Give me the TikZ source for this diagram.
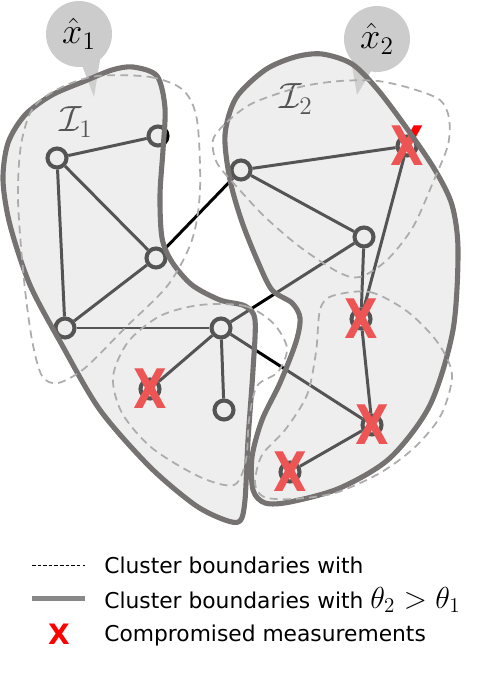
\documentclass[tikz,border=0pt]{standalone}
\usepackage{fontspec}
\setmainfont{DejaVu Sans}
\usetikzlibrary{positioning}

\definecolor{rimgray}{RGB}{118,114,113}
\definecolor{veil}{gray}{0.833}
\definecolor{dashgray}{RGB}{172,172,172}
\definecolor{bubgray}{RGB}{204,204,204}
\definecolor{keygray}{RGB}{136,136,136}

\begin{document}
\begin{tikzpicture}[x=0.02cm, y=-0.02cm,
  vtx/.style={circle, draw=black, fill=white, line width=2.3pt, minimum size=0.38cm, inner sep=0pt},
  link/.style={draw=black, line width=1.7pt},
  xmark/.style={text=red, font=\fontsize{31}{31}\selectfont\bfseries, inner sep=0pt},
  bubble/.style={circle, fill=bubgray, minimum size=1.32cm, inner sep=0pt, font=\fontsize{20}{20}\selectfont},
  tag/.style={font=\fontsize{21}{21}\selectfont, inner sep=0pt},
  blob/.style={draw=rimgray, line width=2.9pt, fill=veil, fill opacity=0.4, line join=round},
  ghost/.style={draw=dashgray, line width=1pt, dash pattern=on 4.5pt off 3pt},
  keytxt/.style={anchor=west, font=\fontsize{12.4}{15}\selectfont, inner sep=0pt}
]
\useasboundingbox (0,0) rectangle (478,688);

% speech bubbles
\node[bubble] (bub1) at (79,34) {$\hat{x}_1$};
\fill[bubgray] (80,60) -- (100,60) -- (94,97) -- cycle;
\node[bubble] (bub2) at (377,39) {$\hat{x}_2$};
\fill[bubgray] (352,66) -- (374,66) -- (357,95) -- cycle;

% measurement nodes
\node[vtx] (a) at (57,158) {};
\node[vtx] (b) at (158,136) {};
\node[vtx] (c) at (156,258) {};
\node[vtx] (d) at (65,328) {};
\node[vtx] (e) at (221,328) {};
\node[vtx] (f) at (150,389) {};
\node[vtx] (g) at (224,410) {};
\node[vtx] (h) at (241,170) {};
\node[vtx] (j) at (407,146) {};
\node[vtx] (k) at (364,237) {};
\node[vtx] (l) at (361,319) {};
\node[vtx] (m) at (372,425) {};
\node[vtx] (n) at (290,472) {};

\draw[link] (a) -- (b);
\draw[link] (a) -- (c);
\draw[link] (a) -- (d);
\draw[link] (c) -- (d);
\draw[link] (d) -- (e);
\draw[link] (e) -- (f);
\draw[link] (e) -- (g);
\draw[link] (c) -- (h);
\draw[link] (e) -- (k);
\draw[link] (e) -- (m);
\draw[link] (h) -- (j);
\draw[link] (h) -- (k);
\draw[link] (j) -- (l);
\draw[link] (k) -- (l);
\draw[link] (l) -- (m);
\draw[link] (m) -- (n);

% compromised ones
\node[xmark] (xf) at (f) {\scalebox{0.8}[1]{X}};
\node[xmark] (xj) at (j) {\scalebox{0.8}[1]{X}};
\node[xmark] (xl) at (l) {\scalebox{0.8}[1]{X}};
\node[xmark] (xm) at (m) {\scalebox{0.8}[1]{X}};
\node[xmark] (xn) at (n) {\scalebox{0.8}[1]{X}};

\node[tag] (i1) at (76,122) {$\mathcal{I}_1$};
\node[tag] (i2) at (296,99) {$\mathcal{I}_2$};

% clusters
\filldraw[blob] plot[smooth cycle] coordinates {(133,67) (157,76) (165,108) (163,150) (160,195) (162,238) (172,262) (192,285) (220,300) (245,306) (255,320) (253,370) (248,440) (245,500) (240,521) (225,520) (195,505) (150,467) (100,410) (62,345) (30,285) (10,225) (3,180) (8,143) (25,115) (52,95) (85,81) (112,70)};
\filldraw[blob] plot[smooth cycle] coordinates {(322,54) (352,64) (378,90) (408,130) (435,170) (452,205) (458,250) (453,330) (430,405) (390,458) (340,488) (290,502) (265,503) (253,490) (252,457) (262,420) (280,383) (296,342) (300,318) (292,303) (272,290) (258,262) (242,222) (230,180) (225,135) (236,98) (265,70) (295,57)};

\draw[ghost] plot[smooth cycle] coordinates {(97,76) (150,77) (183,90) (197,120) (200,190) (192,240) (168,285) (125,328) (85,368) (58,383) (42,376) (32,340) (24,280) (18,200) (21,145) (33,108) (60,88)};
\draw[ghost] plot[smooth cycle] coordinates {(213,140) (227,122) (253,103) (300,87) (340,81) (378,81) (413,89) (440,100) (449,118) (448,145) (434,180) (413,227) (387,260) (360,277) (338,272) (300,247) (265,217) (237,187) (217,163)};
\draw[ghost] plot[smooth cycle] coordinates {(200,305) (245,306) (273,323) (287,348) (278,372) (257,386) (249,420) (246,460) (234,485) (200,477) (152,448) (122,413) (113,377) (128,342) (160,316)};
\draw[ghost] plot[smooth cycle] coordinates {(332,296) (370,292) (408,312) (438,343) (452,375) (441,415) (415,447) (380,473) (335,493) (292,499) (264,497) (255,483) (262,455) (285,430) (307,395) (316,352) (320,310)};

% legend
\coordinate (k1a) at (32,565);
\coordinate (k1b) at (85,565);
\coordinate (k2a) at (32,598);
\coordinate (k2b) at (85,598);
\draw[black, line width=0.4pt, dash pattern=on 2pt off 1.2pt] (k1a) -- (k1b);
\draw[keygray, line width=2.85pt] (k2a) -- (k2b);
\node[text=red, font=\fontsize{16}{16}\selectfont\bfseries, inner sep=0pt] (k3) at (59,634) {X};
\node[keytxt] (t1) at (104,565) {Cluster boundaries with};
\node[keytxt] (t2) at (104,600) {Cluster boundaries with {\fontsize{17}{17}\selectfont$\theta_2>\theta_1$}};
\node[keytxt] (t3) at (104,635) {Compromised measurements};

\end{tikzpicture}
\end{document}
